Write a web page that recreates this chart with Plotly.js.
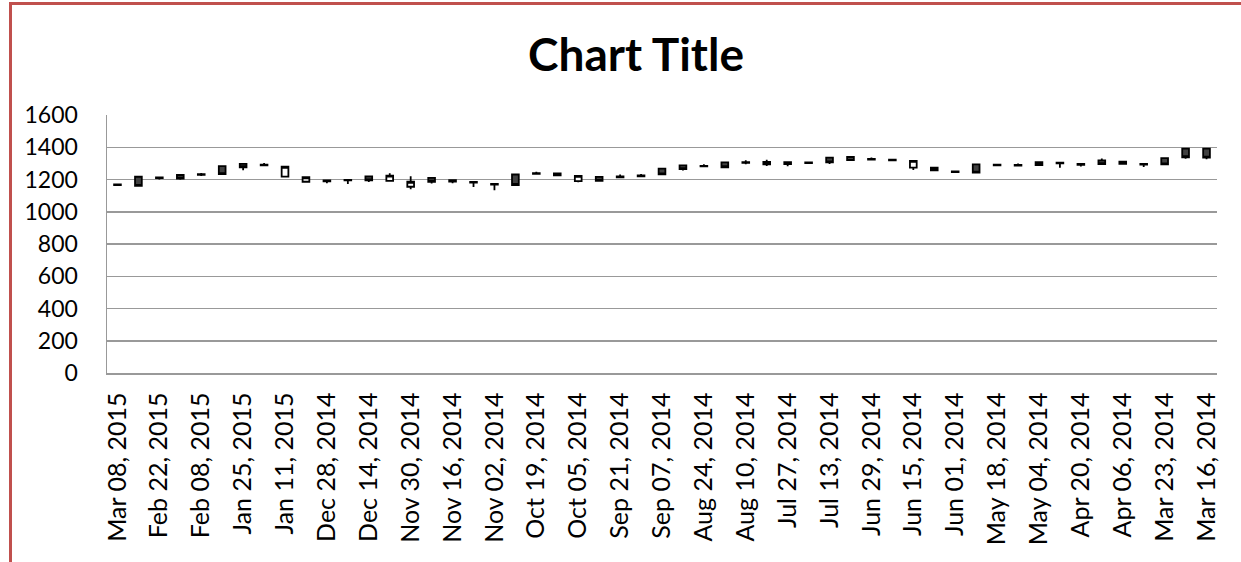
<!DOCTYPE html>
<html>
<head>
<meta charset="utf-8">
<script src="https://cdn.plot.ly/plotly-3.0.1.min.js"></script>
<style>
  html, body { margin: 0; padding: 0; background: #fff; overflow: hidden; }
  #wrap { position: relative; width: 1241px; height: 562px; overflow: hidden; }
  #chart { position: absolute; left: 0; top: 0; width: 1241px; height: 562px; }
  #frame { position: absolute; left: 9px; top: 2px; width: 1300px; height: 700px;
           border-left: 3px solid #C0504D; border-top: 3px solid #C0504D; pointer-events: none; }
</style>
</head>
<body>
<div id="wrap"><div id="chart"></div><div id="frame"></div></div>
<script>
// Weekly OHLC values, newest (Mar 08, 2015) first, as in the reference
const openV  = [1170,1217,1213,1228,1233,1283,1297,1292,1218,1186,1194,1198,1220,1192,1155,1210,1196,1185,1173,1231,1239,1226,1190,1216,1219,1225,1267,1288,1285,1306,1308,1294,1308,1306,1336,1321,1327,1323,1274,1256,1250,1294,1292,1290,1290,1304,1297,1318,1297,1296,1333,1392,1392];
const highV  = [1172,1220,1216,1232,1240,1285,1299,1303,1281,1218,1200,1200,1222,1238,1220,1212,1199,1187,1175,1234,1248,1242,1225,1219,1231,1234,1270,1290,1294,1308,1319,1322,1310,1308,1338,1345,1336,1325,1318,1276,1252,1296,1294,1300,1312,1306,1299,1330,1314,1298,1336,1394,1394];
const lowV   = [1164,1158,1200,1198,1222,1230,1258,1284,1215,1183,1176,1172,1184,1189,1140,1175,1177,1154,1133,1162,1232,1222,1183,1187,1212,1218,1229,1256,1279,1273,1294,1284,1282,1300,1296,1318,1320,1316,1259,1252,1243,1240,1285,1283,1287,1273,1281,1292,1293,1277,1290,1328,1326];
const closeV = [1166,1160,1208,1205,1229,1233,1276,1287,1279,1214,1188,1194,1195,1224,1186,1186,1187,1181,1169,1166,1235,1238,1222,1191,1214,1220,1232,1264,1281,1276,1304,1309,1295,1302,1306,1340,1323,1319,1315,1273,1246,1243,1288,1286,1308,1300,1291,1295,1311,1292,1294,1338,1336];
// Tick labels shown on every second category
const tickLabels = ["Mar 08, 2015","Feb 22, 2015","Feb 08, 2015","Jan 25, 2015","Jan 11, 2015","Dec 28, 2014","Dec 14, 2014","Nov 30, 2014","Nov 16, 2014","Nov 02, 2014","Oct 19, 2014","Oct 05, 2014","Sep 21, 2014","Sep 07, 2014","Aug 24, 2014","Aug 10, 2014","Jul 27, 2014","Jul 13, 2014","Jun 29, 2014","Jun 15, 2014","Jun 01, 2014","May 18, 2014","May 04, 2014","Apr 20, 2014","Apr 06, 2014","Mar 23, 2014","Mar 16, 2014"];

const xIdx = openV.map((_, i) => i);
const tickVals = tickLabels.map((_, i) => i * 2);

const FONT = "Lato, 'Open Sans', sans-serif";

const trace = {
  type: 'candlestick',
  x: xIdx, open: openV, high: highV, low: lowV, close: closeV,
  increasing: { line: { color: '#000000', width: 1.8 }, fillcolor: '#FFFFFF' },
  decreasing: { line: { color: '#000000', width: 1.8 }, fillcolor: '#404040' },
  whiskerwidth: 0,
  hoverinfo: 'skip',
  showlegend: false
};

const layout = {
  width: 1241, height: 562,
  margin: { l: 107, r: 24, t: 115, b: 189, pad: 0 },
  paper_bgcolor: '#FFFFFF', plot_bgcolor: '#FFFFFF',
  boxgap: 0.54,
  showlegend: false,
  title: { text: '<b>Chart Title</b>', x: 636 / 1241, xref: 'container', xanchor: 'center',
           y: 1 - 55 / 562, yref: 'container', yanchor: 'middle',
           font: { family: FONT, size: 46, color: '#000000' } },
  xaxis: {
    type: 'linear', range: [-0.5, 52.5], rangeslider: { visible: false },
    tickmode: 'array', tickvals: tickVals, ticktext: tickLabels, tickangle: -90,
    showgrid: false, zeroline: false, showline: true, linecolor: '#999999', linewidth: 1.5,
    ticks: '', ticklabelstandoff: 8,
    tickfont: { family: FONT, size: 25, color: '#000000' }, fixedrange: true
  },
  yaxis: {
    range: [0, 1600], dtick: 200, tick0: 0,
    showgrid: true, gridcolor: '#999999', gridwidth: 1.5,
    zeroline: false, showline: true, linecolor: '#999999', linewidth: 1.5,
    ticks: '', ticksuffix: '\u2002\u2002',
    tickfont: { family: FONT, size: 23, color: '#000000' }, fixedrange: true
  }
};

Plotly.newPlot('chart', [trace], layout, { staticPlot: true, displayModeBar: false });
</script>
</body>
</html>
